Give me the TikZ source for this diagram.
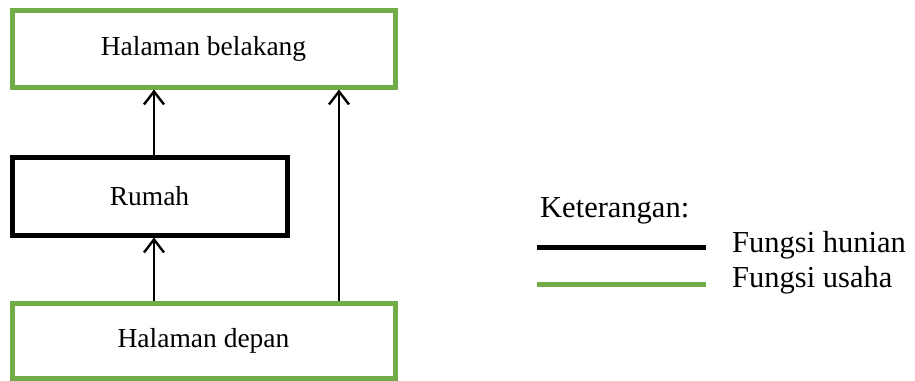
\documentclass[tikz,border=0pt]{standalone}
\usepackage{fontspec}
\setmainfont{Liberation Serif}
\usetikzlibrary{arrows.meta}
\definecolor{usaha}{HTML}{70AD47}
\begin{document}
\begin{tikzpicture}[x=1pt,y=-1pt,
  box/.style={rectangle,draw,line width=5pt,inner sep=0pt,font=\fontsize{27.5}{32}\selectfont},
  greenbox/.style={box,draw=usaha,minimum width=383pt},
  blackbox/.style={box,draw=black},
  arr/.style={line width=2.4pt,-{Straight Barb[length=13pt,width=20pt,line width=2.4pt]}},
  legtext/.style={anchor=west,inner sep=0pt,font=\fontsize{30.5}{34}\selectfont},
  legline/.style={line width=5pt}]
\useasboundingbox (0,0) rectangle (915,380);
\node[greenbox,minimum height=77pt] (top) at (203.5,48.5) {Halaman belakang};
\node[blackbox,minimum width=275pt,minimum height=78pt] (rumah) at (149.5,196) {Rumah};
\node[greenbox,minimum height=75pt] (bot) at (203.5,340.5) {Halaman depan};
\coordinate (c1) at (154,0);
\coordinate (c2) at (339,0);
\draw[arr] (bot.north -| c1) -- (rumah.south -| c1);
\draw[arr] (rumah.north -| c1) -- (top.south -| c1);
\draw[arr] (bot.north -| c2) -- (top.south -| c2);
\node[legtext] (ket) at (540,211) {Keterangan:};
\node[legtext] (hun) at (732,245) {Fungsi hunian};
\node[legtext] (usa) at (732,280) {Fungsi usaha};
\coordinate (l1a) at (537,247);
\coordinate (l1b) at (706,247);
\coordinate (l2a) at (537,284);
\coordinate (l2b) at (706,284);
\draw[legline,black] (l1a) -- (l1b);
\draw[legline,usaha] (l2a) -- (l2b);
\end{tikzpicture}
\end{document}
